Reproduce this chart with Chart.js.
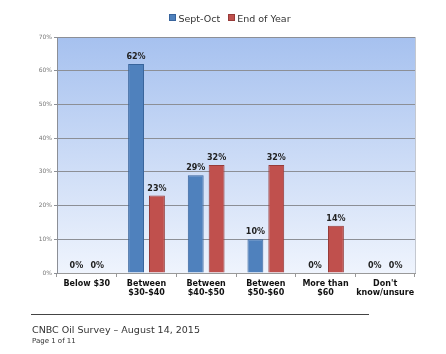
<!DOCTYPE html>
<html>
<head>
<meta charset="utf-8">
<script src="https://cdn.jsdelivr.net/npm/chart.js@4/dist/chart.umd.min.js"></script>
<style>
  body { margin: 0; background: #fff; font-family: "DejaVu Sans", Verdana, sans-serif; }
  #wrap { position: relative; width: 446px; height: 354px; }
  #chart { position: absolute; left: 0; top: 0; }
  #legend { position: absolute; top: 13px; left: 0; width: 446px; text-align: center; font-size: 9.5px; color: #333; padding-left: 14px; box-sizing: border-box; }
  #legend span.box { display: inline-block; width: 5px; height: 5px; margin-right: 2px; vertical-align: 1px; }
  #legend span.item { margin: 0 4px; }
  #rule { position: absolute; left: 31px; top: 314px; width: 338px; height: 1px; background: #444; }
  #foot1 { position: absolute; left: 32px; top: 324px; font-size: 9.5px; color: #333; }
  #foot2 { position: absolute; left: 32px; top: 337px; font-size: 7px; color: #333; }
</style>
</head>
<body>
<div id="wrap">
  <canvas id="chart" width="446" height="354"></canvas>
  <div id="legend"></div>
  <div id="rule"></div>
  <div id="foot1">CNBC Oil Survey – August 14, 2015</div>
  <div id="foot2">Page 1 of 11</div>
</div>
<script>
const categories = [
    ['Below $30'],
    ['Between', '$30-$40'],
    ['Between', '$40-$50'],
    ['Between', '$50-$60'],
    ['More than', '$60'],
    ['Don\'t', 'know/unsure']
];
const seriesNames = ['Sept-Oct', 'End of Year'];
const septOct = [0, 62, 29, 10, 0, 0];
const endOfYear = [0, 23, 32, 32, 14, 0];
const yTicks = [0, 10, 20, 30, 40, 50, 60, 70];

const fills = ['#4f81bd', '#c0504d'];
const edges = ['#38649c', '#963b39'];

document.getElementById('legend').innerHTML = seriesNames.map((n, i) =>
    '<span class="item"><span class="box" style="background:' + fills[i] + ';border:1px solid ' + edges[i] + '"></span>' + n + '</span>'
).join('');

// gradient behind the plot
const plotBack = {
    id: 'plotBack',
    beforeDraw(chart) {
        const { ctx, chartArea: a } = chart;
        const g = ctx.createLinearGradient(0, a.top, 0, a.bottom);
        g.addColorStop(0, '#a6c1ef');
        g.addColorStop(1, '#eff4fd');
        ctx.save();
        ctx.fillStyle = g;
        ctx.fillRect(a.left, a.top, a.right - a.left, a.bottom - a.top);
        ctx.strokeStyle = '#c4c8d0';
        ctx.strokeRect(a.left + 0.5, a.top + 0.5, a.right - a.left, a.bottom - a.top);
        ctx.restore();
    }
};

// percent labels above bars
const valueLabels = {
    id: 'valueLabels',
    afterDatasetsDraw(chart) {
        const ctx = chart.ctx;
        ctx.save();
        ctx.font = 'bold 8px "DejaVu Sans", Verdana, sans-serif';
        ctx.fillStyle = '#222';
        ctx.textAlign = 'center';
        ctx.textBaseline = 'bottom';
        chart.data.datasets.forEach((ds, i) => {
            chart.getDatasetMeta(i).data.forEach((bar, j) => {
                ctx.fillText(ds.data[j] + '%', bar.x, bar.y - 3);
            });
        });
        ctx.restore();
    }
};

new Chart(document.getElementById('chart'), {
    type: 'bar',
    data: {
        labels: categories,
        datasets: [
            { label: seriesNames[0], data: septOct, backgroundColor: fills[0], borderColor: edges[0], borderWidth: 1 },
            { label: seriesNames[1], data: endOfYear, backgroundColor: fills[1], borderColor: edges[1], borderWidth: 1 }
        ]
    },
    options: {
        responsive: false,
        animation: false,
        categoryPercentage: 0.7,
        barPercentage: 0.76,
        layout: { padding: { top: 37, right: 31, bottom: 51, left: 0 } },
        plugins: { legend: { display: false }, tooltip: { enabled: false } },
        scales: {
            x: {
                afterFit: s => { s.height = 30; },
                grid: { offset: true, drawOnChartArea: false, drawTicks: true, tickLength: 4, color: '#999' },
                border: { color: '#999' },
                ticks: { autoSkip: false, color: '#111', font: { family: '"DejaVu Sans", Verdana, sans-serif', size: 8, weight: 'bold' }, padding: 2, maxRotation: 0 }
            },
            y: {
                min: 0,
                max: 70,
                afterFit: s => { s.width = 57; },
                afterBuildTicks: s => { s.ticks = yTicks.map(v => ({ value: v })); },
                grid: { color: '#8c8f96', tickLength: 3 },
                border: { color: '#8c8f96' },
                ticks: { color: '#777', font: { family: '"DejaVu Sans", Verdana, sans-serif', size: 6 }, padding: 2, callback: v => v + '%' }
            }
        }
    },
    plugins: [plotBack, valueLabels]
});
</script>
</body>
</html>
